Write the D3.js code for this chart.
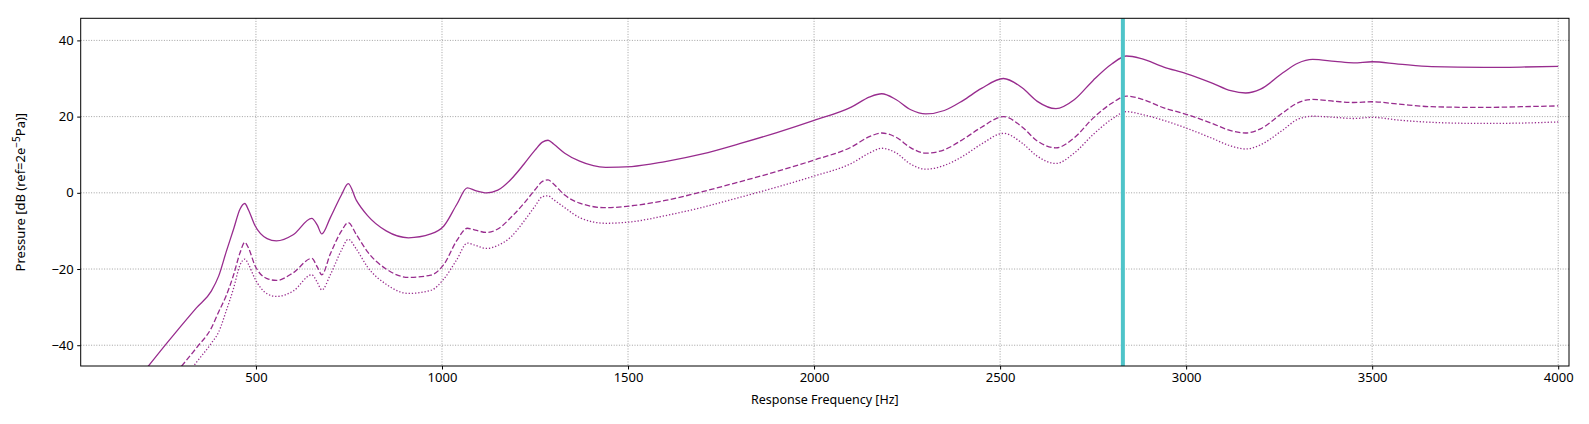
<!DOCTYPE html>
<html>
<head>
<meta charset="utf-8">
<script src="https://cdn.jsdelivr.net/npm/d3@7"></script>
<style>
    body { margin: 0; background: #fff; }
    text { font-family: "Noto Sans", sans-serif; fill: #000; }
    .tick text { font-size: 13px; }
</style>
</head>
<body>
<div id="chart"></div>
<script>

// frequency grid [Hz]
var freqs = [200, 260, 300, 340, 380, 400, 420, 440, 457, 470, 480, 497, 530, 555, 600, 650, 665, 677, 700, 730,
    748, 770, 800, 850, 910, 970, 1005, 1040, 1068, 1090, 1120, 1150, 1185, 1220, 1250, 1270, 1285, 1300, 1330, 1370,
    1440, 1510, 1600, 1700, 1800, 1900, 2000, 2100, 2150, 2182, 2220, 2260, 2300, 2350, 2400, 2450, 2509, 2560, 2600, 2650,
    2700, 2750, 2800, 2840, 2880, 2940, 3000, 3070, 3120, 3160, 3200, 3260, 3300, 3340, 3400, 3450, 3500, 3570, 3660, 3800,
    3900, 4000];

// pressure [dB] - solid curve
var pSolid = [-46.8, -39.5, -34.8, -30.2, -25.8, -21.8, -15.5, -9.5, -4.3, -2.8, -4.5, -8.5, -12.0, -12.6, -11.0, -6.7, -8.5, -10.8, -6.5, -0.5,
    2.4, -2.0, -6.0, -10.0, -11.8, -10.8, -8.7, -3.0, 1.3, 0.6, 0.0, 0.7, 3.5, 7.5, 11.2, 13.3, 13.8, 12.8, 10.4, 8.3,
    6.7, 6.9, 8.2, 10.2, 12.9, 15.8, 19.0, 22.5, 25.2, 26.0, 24.5, 21.8, 20.7, 21.6, 24.2, 27.4, 30.0, 27.5, 24.0, 22.1,
    24.5, 29.5, 33.8, 35.9, 35.2, 33.0, 31.3, 28.8, 26.8, 26.2, 27.2, 31.5, 34.0, 35.0, 34.5, 34.1, 34.4, 33.8, 33.1, 32.9,
    33.0, 33.2];

// pressure [dB] - dashed curve
var pDashed = [null, null, -45.5, -40.7, -35.5, -31.2, -27, -21.5, -15.8, -13.0, -14.5, -19.0, -22.5, -23.0, -21.0, -17.2, -19.5, -21.5, -16.0, -10.0,
    -7.8, -11.0, -15.5, -20.0, -22.2, -21.6, -18.8, -12.5, -9.3, -9.8, -10.4, -9.5, -6.5, -2.8, 0.8, 3.0, 3.4, 2.3, -0.6, -2.7,
    -3.9, -3.4, -2.0, 0.3, 2.9, 5.6, 8.6, 12.0, 14.8, 15.7, 14.6, 11.8, 10.4, 11.3, 14.0, 17.2, 20.0, 17.2, 13.6, 11.8,
    14.5, 19.6, 23.5, 25.4, 24.6, 22.3, 20.6, 18.2, 16.3, 15.7, 16.8, 21.0, 23.6, 24.5, 24.0, 23.7, 23.9, 23.3, 22.6, 22.4,
    22.6, 22.8];

// pressure [dB] - dotted curve
var pDotted = [null, null, -50, -44.5, -39.5, -36.5, -31, -25, -19, -17.4, -18.8, -22.5, -26.5, -27.2, -25.8, -21.5, -23.5, -25.5, -21.5, -15.0,
    -12.2, -14.8, -19.5, -24.0, -26.4, -25.6, -22.6, -17.5, -13.2, -13.8, -14.6, -13.8, -11.6, -7.5, -3.5, -1.0, -0.8, -1.8, -3.9, -6.5,
    -8.0, -7.6, -6.0, -3.8, -1.2, 1.5, 4.4, 7.7, 10.5, 11.7, 10.5, 7.5, 6.2, 7.2, 9.6, 12.8, 15.6, 13.0, 9.6, 7.7,
    10.5, 15.3, 19.3, 21.3, 20.6, 19.0, 17.0, 14.3, 12.3, 11.5, 12.6, 16.5, 19.3, 20.1, 19.8, 19.5, 19.8, 19.1, 18.5, 18.2,
    18.3, 18.6];

// marker line frequency
var markerFreq = 2830;

var xTicks = [500, 1000, 1500, 2000, 2500, 3000, 3500, 4000];
var yTicks = [-40, -20, 0, 20, 40];

var svgWidth = 1589;
var svgHeight = 424;

var margin = {
    top: 18.3,
    bottom: 58,
    right: 20,
    left: 80.7
};

var height = svgHeight - margin.top - margin.bottom;
var width = svgWidth - margin.left - margin.right;

var svg = d3.select("#chart")
    .append("svg")
    .attr("width", svgWidth)
    .attr("height", svgHeight);

var chartGroup = svg.append("g")
    .attr("transform", `translate(${margin.left}, ${margin.top})`);

// scales
var xScale = d3.scaleLinear()
    .domain([29, 4029])
    .range([0, width]);

var yScale = d3.scaleLinear()
    .domain([-45.45, 45.8])
    .range([height, 0]);

// clip to plot area
svg.append("defs").append("clipPath")
    .attr("id", "clip")
    .append("rect")
    .attr("width", width)
    .attr("height", height);

// grid lines
chartGroup.append("g")
    .selectAll("line")
    .data(xTicks)
    .enter()
    .append("line")
    .attr("x1", d => xScale(d))
    .attr("x2", d => xScale(d))
    .attr("y1", 0)
    .attr("y2", height)
    .attr("stroke", "#8a8a8a")
    .attr("stroke-width", 0.8)
    .attr("stroke-dasharray", "1,1.6");

chartGroup.append("g")
    .selectAll("line")
    .data(yTicks)
    .enter()
    .append("line")
    .attr("x1", 0)
    .attr("x2", width)
    .attr("y1", d => yScale(d))
    .attr("y2", d => yScale(d))
    .attr("stroke", "#8a8a8a")
    .attr("stroke-width", 0.8)
    .attr("stroke-dasharray", "1,1.6");

// curves
var lineColor = "#982c8e";

var series = [
    { values: pSolid, dash: null },
    { values: pDashed, dash: "5.5,2.4" },
    { values: pDotted, dash: "1.3,1.9" }
];

var line = d3.line()
    .defined(d => d[1] !== null)
    .x(d => xScale(d[0]))
    .y(d => yScale(d[1]))
    .curve(d3.curveMonotoneX);

var linesGroup = chartGroup.append("g")
    .attr("clip-path", "url(#clip)");

series.forEach(function (s) {
    linesGroup.append("path")
        .datum(freqs.map((f, i) => [f, s.values[i]]))
        .attr("d", line)
        .attr("fill", "none")
        .attr("stroke", lineColor)
        .attr("stroke-width", 1.3)
        .attr("stroke-dasharray", s.dash);
});

// marker line
linesGroup.append("line")
    .attr("x1", xScale(markerFreq))
    .attr("x2", xScale(markerFreq))
    .attr("y1", 0)
    .attr("y2", height)
    .attr("stroke", "#4fc4c9")
    .attr("stroke-width", 4);

// axes
var bottomAxis = d3.axisBottom(xScale)
    .tickValues(xTicks)
    .tickSize(3.5)
    .tickPadding(3.5)
    .tickFormat(d3.format("d"));

var leftAxis = d3.axisLeft(yScale)
    .tickValues(yTicks)
    .tickSize(3.5)
    .tickPadding(3.5)
    .tickFormat(d => d < 0 ? "\u2212" + Math.abs(d) : d);

chartGroup.append("g")
    .attr("transform", `translate(0, ${height})`)
    .call(bottomAxis)
    .call(g => g.select(".domain").remove());

chartGroup.append("g")
    .call(leftAxis)
    .call(g => g.select(".domain").remove());

chartGroup.selectAll(".tick text").attr("font-family", null).attr("font-size", null);

// frame
chartGroup.append("rect")
    .attr("width", width)
    .attr("height", height)
    .attr("fill", "none")
    .attr("stroke", "#000")
    .attr("stroke-width", 1);

// axis labels
chartGroup.append("text")
    .attr("x", width / 2)
    .attr("y", height + 38)
    .attr("text-anchor", "middle")
    .attr("font-size", "12.5px")
    .text("Response Frequency [Hz]");

var yLabel = chartGroup.append("text")
    .attr("transform", `translate(${-56}, ${height / 2}) rotate(-90)`)
    .attr("text-anchor", "middle")
    .attr("font-size", "13px");

yLabel.append("tspan").text("Pressure [dB (ref=2e");
yLabel.append("tspan").attr("dy", -5).attr("font-size", "10px").text("\u22125");
yLabel.append("tspan").attr("dy", 5).text("Pa)]");

</script>
</body>
</html>
